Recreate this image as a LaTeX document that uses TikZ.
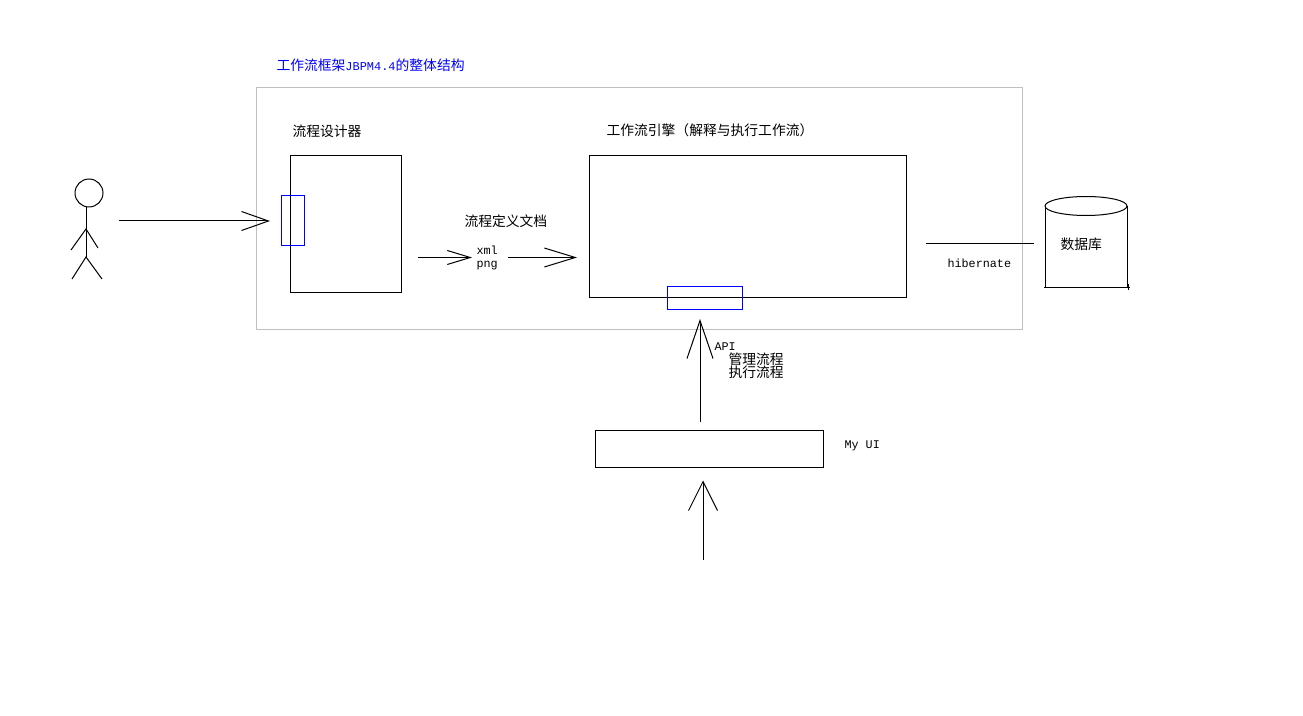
\documentclass[tikz,border=0pt]{standalone}
\usepackage{fontspec}
\setmainfont{Noto Sans CJK SC}
\setmonofont{Liberation Mono}
\usepackage{tikz}
\usetikzlibrary{arrows.meta,calc}
\tikzset{
 boxnode/.style={draw,rectangle,inner sep=0pt,outer sep=0pt},
 handlenode/.style={draw=blue,rectangle,inner sep=0pt,outer sep=0pt},
 cnlabel/.style={anchor=west,inner sep=0pt,font=\fontsize{7.85}{9}\selectfont},
 latinlabel/.style={anchor=west,inner sep=0pt,font=\fontsize{6.7}{7.4}\selectfont\ttfamily},
 barbarrow/.style 2 args={-{Straight Barb[length=#1cm,width=#2cm]}},
}
\begin{document}
\begin{tikzpicture}[x=0.02cm,y=-0.02cm,line width=0.02cm]
 \useasboundingbox (0,0) rectangle (1303,716);
 % frame
 \node[boxnode,draw=black!25,minimum width=15.34cm,minimum height=4.86cm] (framework) at (639.5,208.5) {};
 \node[cnlabel,text=blue] (frametitle) at (276,65) {工作流框架{\ttfamily\fontsize{6.8}{8}\selectfont JBPM4.4}的整体结构};
 % user
 \node[draw,circle,inner sep=0pt,outer sep=0pt,minimum size=0.56cm] (userhead) at (89,193) {};
 \coordinate (userneck) at (86,207);
 \coordinate (userhip) at (86,257);
 \draw (userneck) -- (userhip);
 \draw (71,250) -- (86,229) -- (98,248);
 \draw (72,279) -- (userhip) -- (102,279);
 % designer
 \node[boxnode,minimum width=2.24cm,minimum height=2.76cm] (designer) at (346,224) {};
 \node[handlenode,minimum width=0.48cm,minimum height=1.02cm] (designerport) at (293,220.5) {};
 \node[cnlabel] (designerlabel) at (292,131) {流程设计器};
 \coordinate (usertail) at (119,221);
 \draw[barbarrow={0.54}{0.38},shorten >=0.22cm] (usertail) -- (usertail -| designerport.west);
 % definition files
 \node[cnlabel] (docslabel) at (464,221) {流程定义文档};
 \node[latinlabel,align=left] (docs) at (476,257.5) {xml\\png};
 % engine
 \node[boxnode,minimum width=6.36cm,minimum height=2.86cm] (engine) at (748,226.5) {};
 \node[handlenode,minimum width=1.5cm,minimum height=0.48cm] (apiport) at (705,298) {};
 \node[cnlabel] (enginelabel) at (606,130.5) {工作流引擎（解释与执行工作流）};
 \draw[barbarrow={0.46}{0.28},shorten <=0.32cm,shorten >=0.08cm] (designer.east |- docs.west) -- (docs.west);
 \draw[barbarrow={0.62}{0.38},shorten <=0.2cm,shorten >=0.24cm] (docs.east) -- (docs.east -| engine.west);
 % database
 \draw (1045,206) -- (1045,287);
 \draw (1127,206) -- (1127,287);
 \draw[fill=white] (1086,206) ellipse (41 and 9.5);
 \draw (1044,287.5) -- (1130,287.5);
 \draw (1128,284) -- (1128,290);
 \node[cnlabel] (database) at (1060,244) {数据库};
 \node[latinlabel] (hibernate) at (947,263) {hibernate};
 \draw[shorten <=0.38cm,shorten >=0.52cm] (engine.east |- database.west) -- (database.west);
 % my ui
 \node[boxnode,minimum width=4.58cm,minimum height=0.74cm] (myui) at (709.5,449) {};
 \node[latinlabel] (myuilabel) at (844,446) {My UI};
 \node[latinlabel] (apilabel) at (714,347) {API};
 \node[cnlabel] (managelabel) at (728,359) {管理流程};
 \node[cnlabel] (executelabel) at (728,372) {执行流程};
 \coordinate (apitail) at (700,422);
 \coordinate (inputtail) at (703,560);
 \draw[barbarrow={0.76}{0.52},shorten >=0.18cm] (apitail) -- (apitail |- apiport.south);
 \draw[barbarrow={0.58}{0.58},shorten >=0.26cm] (inputtail) -- (inputtail |- myui.south);
\end{tikzpicture}
\end{document}
